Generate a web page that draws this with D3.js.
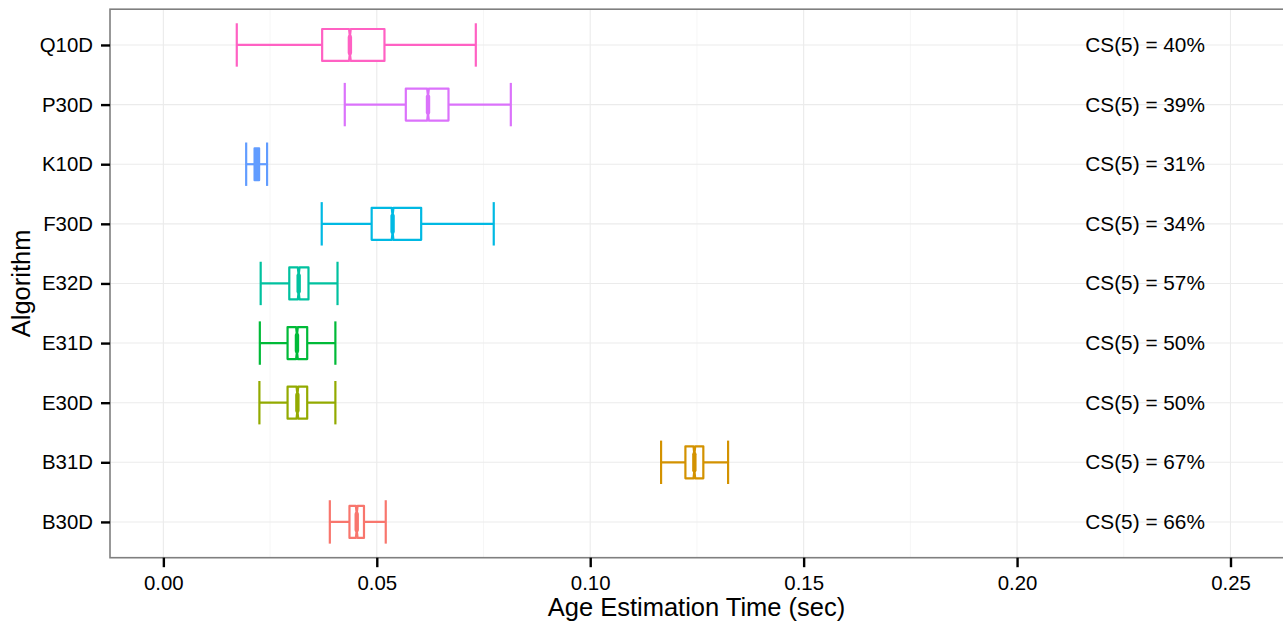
<!DOCTYPE html>
<html><head><meta charset="utf-8">
<script src="https://cdn.jsdelivr.net/npm/d3@7"></script>
<style>html,body{margin:0;padding:0;background:#fff;}svg{display:block;font-family:"Liberation Sans",Arial,Helvetica,sans-serif;}</style>
</head><body>
<svg id="c" width="1283" height="622"></svg>
<script>
const categories = ["B30D","B31D","E30D","E31D","E32D","F30D","K10D","P30D","Q10D"];
const colors = ["#F8766D","#D39200","#93AA00","#00BA38","#00C19F","#00B9E3","#619CFF","#DB72FB","#FF61C3"];
const whiskerLo = [0.0390,0.1166,0.0225,0.0226,0.0228,0.0371,0.0194,0.0425,0.0172];
const q1 =        [0.0436,0.1223,0.0291,0.0291,0.0295,0.0488,0.0214,0.0568,0.0372];
const median =    [0.0453,0.1244,0.0314,0.0313,0.0317,0.0537,0.0219,0.0620,0.0437];
const q3 =        [0.0470,0.1265,0.0337,0.0337,0.0340,0.0604,0.0223,0.0668,0.0518];
const whiskerHi = [0.0521,0.1323,0.0403,0.0403,0.0408,0.0774,0.0243,0.0814,0.0732];
const notch =     [0.0002,0.0002,0.0002,0.0002,0.0002,0.0002,0.00053,0.0002,0.0002];
const csValues =  [66,67,50,50,57,34,31,39,40];
const xTicks = [0,0.05,0.10,0.15,0.20,0.25];
const xMinor = [0.025,0.075,0.125,0.175,0.225];
const labelX = 0.23;

const svg = d3.select("#c");
const L = 110, R = 1283, T = 9.2, B = 557.7;
const x = d3.scaleLinear().domain([-0.0125, 0.2623]).range([L, R]);
const y = d3.scalePoint().domain(categories).range([B, T]).padding(0.6);
const step = y.step();
const boxH = step*0.536/2, capH = step*0.728/2;
const SW = 2.2;

const g = svg.append("g");
// grid
g.selectAll(".minor").data(xMinor).join("line")
  .attr("x1",d=>x(d)).attr("x2",d=>x(d)).attr("y1",T).attr("y2",B)
  .attr("stroke","#f6f6f6").attr("stroke-width",1);
g.selectAll(".majx").data(xTicks).join("line")
  .attr("x1",d=>x(d)).attr("x2",d=>x(d)).attr("y1",T).attr("y2",B)
  .attr("stroke","#ebebeb").attr("stroke-width",1.1);
g.selectAll(".majy").data(categories).join("line")
  .attr("x1",L).attr("x2",R).attr("y1",d=>y(d)).attr("y2",d=>y(d))
  .attr("stroke","#ebebeb").attr("stroke-width",1.1);

// boxes
const data = categories.map((c,i)=>({c,col:colors[i],wl:whiskerLo[i],q1:q1[i],m:median[i],q3:q3[i],wh:whiskerHi[i],n:notch[i],cs:csValues[i]}));
const outside = d => (d.m-d.n<d.q1||d.m+d.n>d.q3);
const bg = g.selectAll(".box").data(data).join("g");
// whiskers (errorbar)
bg.append("line").attr("x1",d=>x(d.wl)).attr("x2",d=>x(d.wh)).attr("y1",d=>y(d.c)).attr("y2",d=>y(d.c))
  .attr("stroke",d=>d.col).attr("stroke-width",SW);
bg.append("line").attr("x1",d=>x(d.wl)).attr("x2",d=>x(d.wl)).attr("y1",d=>y(d.c)-capH).attr("y2",d=>y(d.c)+capH)
  .attr("stroke",d=>d.col).attr("stroke-width",SW);
bg.append("line").attr("x1",d=>x(d.wh)).attr("x2",d=>x(d.wh)).attr("y1",d=>y(d.c)-capH).attr("y2",d=>y(d.c)+capH)
  .attr("stroke",d=>d.col).attr("stroke-width",SW);
// notched box polygon
bg.append("path").attr("d",d=>{
  const yc=y(d.c), t=yc-boxH, b=yc+boxH, ind=boxH*0.5;
  const nl=d.m-d.n, nu=d.m+d.n;
  let pts;
  if (outside(d)) {
    pts=[[nu,t],[nl,t],[nl,b],[nu,b]];
  } else {
    pts=[[d.q3,t],[nu,t],[d.m,t+ind],[nl,t],[d.q1,t],[d.q1,b],[nl,b],[d.m,b-ind],[nu,b],[d.q3,b]];
  }
  return "M"+pts.map(p=>x(p[0])+","+p[1]).join("L")+"Z";
}).attr("fill",d=>outside(d)?d.col:"white")
  .attr("stroke",d=>d.col).attr("stroke-width",SW).attr("stroke-linejoin","round");
// median
bg.append("line").attr("x1",d=>x(d.m)).attr("x2",d=>x(d.m))
  .attr("y1",d=>y(d.c)-boxH*0.5).attr("y2",d=>y(d.c)+boxH*0.5)
  .attr("stroke",d=>d.col).attr("stroke-width",4.4).attr("stroke-linecap","round");
// labels
bg.append("text").attr("x",x(labelX)).attr("y",d=>y(d.c)+7).attr("text-anchor","middle")
  .attr("font-size",20.8).attr("fill","#000").text(d=>"CS(5) = "+d.cs+"%");

// border
svg.append("rect").attr("x",L).attr("y",T).attr("width",R-L+2).attr("height",B-T)
  .attr("fill","none").attr("stroke","#7f7f7f").attr("stroke-width",1.6);

// axes
const xa = svg.append("g").attr("transform",`translate(0,${B})`)
  .call(d3.axisBottom(x).tickValues(xTicks).tickFormat(d3.format(".2f")).tickSize(9.5).tickPadding(8));
xa.select(".domain").remove();
xa.selectAll("line").attr("stroke","#000").attr("stroke-width",2.4);
xa.selectAll("text").attr("font-size",20.4).attr("fill","#000").attr("font-family","Liberation Sans, Arial, sans-serif");

const ya = svg.append("g").attr("transform",`translate(${L},0)`)
  .call(d3.axisLeft(y).tickSize(9).tickPadding(8));
ya.select(".domain").remove();
ya.selectAll("line").attr("stroke","#000").attr("stroke-width",2.4);
ya.selectAll("text").attr("font-size",20.4).attr("fill","#000").attr("font-family","Liberation Sans, Arial, sans-serif");

svg.append("text").attr("x",(L+R)/2).attr("y",616).attr("text-anchor","middle")
  .attr("font-size",25.5).attr("fill","#000").text("Age Estimation Time (sec)");
svg.append("text").attr("transform",`translate(30,${(T+B)/2}) rotate(-90)`).attr("text-anchor","middle")
  .attr("font-size",25.5).attr("fill","#000").text("Algorithm");
</script>
</body></html>
